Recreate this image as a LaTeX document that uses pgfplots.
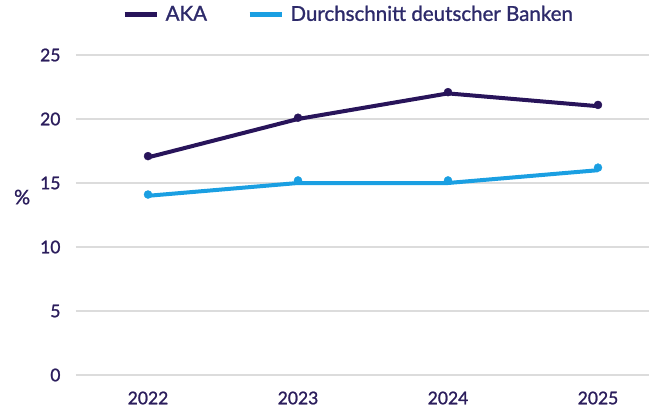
\documentclass[border=0pt]{standalone}
\usepackage{pgfplots}
\pgfplotsset{compat=1.18}
\usepackage{fontspec}
\setmainfont{Lato}[FakeBold=1.2,UprightFont=*,BoldFont=*]
\definecolor{aka}{HTML}{28145A}
\definecolor{avg}{HTML}{1A9FE2}
\definecolor{txt}{HTML}{2B1D5C}
\definecolor{legtxt}{HTML}{2D2A6A}
\definecolor{gridc}{HTML}{DCDCDC}
\begin{document}
\begin{tikzpicture}[x=1pt,y=1pt]
\useasboundingbox (0,0) rectangle (649,408);
\begin{axis}[
  at={(76pt,33pt)}, anchor=south west,
  scale only axis, width=573pt, height=320pt,
  xmin=2021.52, xmax=2025.34, ymin=0, ymax=25,
  axis line style={draw=none},
  xtick={2022,2023,2024,2025},
  xticklabels={2022,2023,2024,2025},
  ytick={0,5,10,15,20,25},
  ymajorgrids, grid style={gridc, line width=1.3pt},
  major tick length=0pt,
  /pgf/number format/assume math mode=true,
  ticklabel style={font=\fontsize{17.5}{17.5}\selectfont\bfseries, text=txt},
  yticklabel style={anchor=east, xshift=-12pt},
  xticklabel style={anchor=center, yshift=-23pt},
  ylabel={\%},
  ylabel style={rotate=-90, at={(axis description cs:-0.094,0.556)}, anchor=center, font=\fontsize{20}{20}\selectfont\bfseries, text=txt},
  legend columns=2,
  legend style={at={(axis description cs:0.4756,1.128)}, anchor=center, draw=none, fill=none,
    font=\fontsize{20.5}{20.5}\selectfont\bfseries, text=legtxt,
    /tikz/every even column/.append style={column sep=38pt}},
  legend image code/.code={\draw[line width=5pt] (0pt,0pt) -- (32pt,0pt); \path (37pt,0pt);},
]
\addplot[aka, line width=4pt] coordinates {(2022,17) (2023,20) (2024,22) (2025,21)};
\addlegendentry{AKA}
\addplot[avg, line width=4pt] coordinates {(2022,14) (2023,15) (2024,15) (2025,16)};
\addlegendentry{Durchschnitt deutscher Banken}
\addplot[aka, only marks, mark=*, mark size=4pt, forget plot] coordinates {(2022,17.1) (2023,20.1) (2024,22.1) (2025,21.1)};
\addplot[avg, only marks, mark=*, mark size=4pt, forget plot] coordinates {(2022,14.1) (2023,15.2) (2024,15.2) (2025,16.2)};
\end{axis}
\end{tikzpicture}
\end{document}
